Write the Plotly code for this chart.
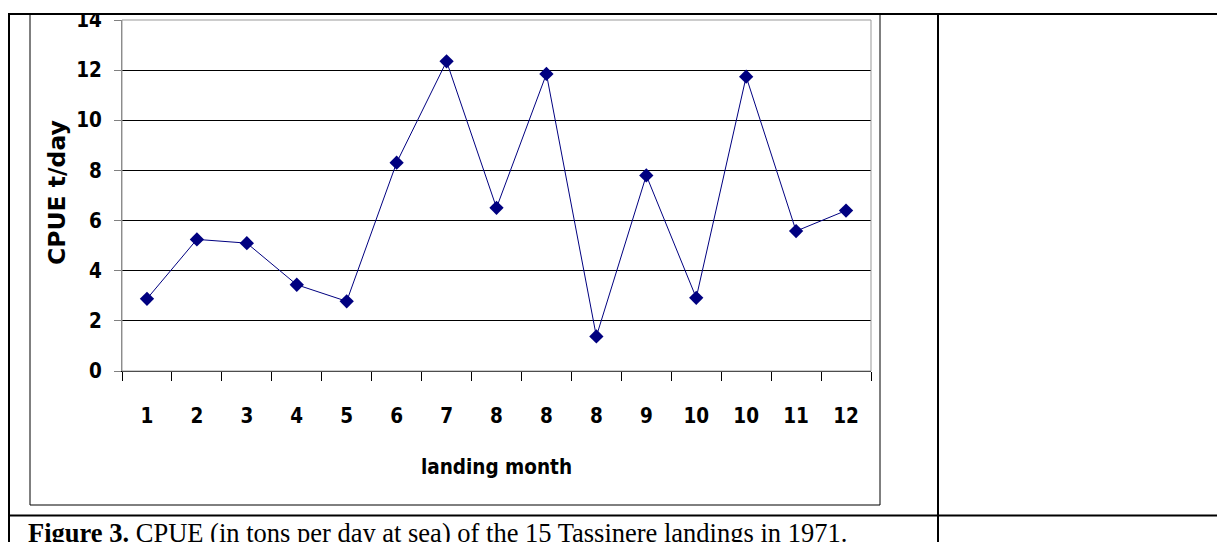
import plotly.graph_objects as go

# landing order (15 landings in 1971) and the month label for each
landing_month = ["1", "2", "3", "4", "5", "6", "7", "8", "8", "8", "9", "10", "10", "11", "12"]
cpue_t_day = [2.88, 5.25, 5.10, 3.44, 2.78, 8.31, 12.35, 6.51, 11.85, 1.38, 7.80, 2.92, 11.74, 5.58, 6.40]

y_ticks = [0, 2, 4, 6, 8, 10, 12, 14]

# page is 1225x542, the figure div sits 8px in from the body margin
OX, OY = 8, 8
W, H = 1225 - OX, 542 - OY
L, R, T, B = 122, 871, 20, 371   # plot area, page pixels


def px(x):
    return (x - L) / (R - L)


def py(y):
    return (B - y) / (B - T)


label_font = dict(family="Liberation Sans Narrow, DejaVu Sans Condensed, Roboto Condensed, Liberation Sans",
                  size=20.5, color="black", weight="bold")

x_pos = list(range(len(cpue_t_day)))

fig = go.Figure()
fig.add_trace(go.Scatter(
    x=x_pos,
    y=cpue_t_day,
    mode="lines+markers",
    line=dict(color="#000080", width=1),
    marker=dict(symbol="diamond", size=11, color="#000080"),
    showlegend=False,
    hoverinfo="y",
))

fig.update_layout(
    width=W, height=H,
    margin=dict(l=L - OX, r=1225 - R, t=T - OY, b=542 - B, pad=0),
    paper_bgcolor="white",
    plot_bgcolor="white",
    xaxis=dict(
        range=[-0.5, len(cpue_t_day) - 0.5],
        automargin=False,
        tickvals=x_pos,
        ticktext=landing_month,
        ticks="",
        ticklabelstandoff=26,
        tickfont=label_font,
        showgrid=False,
        zeroline=False,
        showline=True,
        linecolor="black",
        linewidth=1,
        minor=dict(
            tickvals=[i - 0.5 for i in range(len(cpue_t_day) + 1)],
            ticks="outside",
            ticklen=9,
            tickcolor="black",
            tickwidth=1,
            showgrid=False,
        ),
        title=dict(text="landing month", font=label_font, standoff=33),
    ),
    yaxis=dict(
        range=[0, 14],
        automargin=False,
        tickvals=y_ticks,
        ticks="outside",
        ticklen=7,
        tickcolor="#808080",
        ticklabelstandoff=8,
        ticklabeloverflow="allow",
        tickfont=label_font,
        showgrid=True,
        gridcolor="black",
        gridwidth=1,
        zeroline=False,
        showline=True,
        linecolor="#808080",
        linewidth=1,
    ),
    font=dict(family="Liberation Sans", color="black"),
)

# y axis title
fig.add_annotation(
    text="CPUE t/day", xref="paper", yref="paper",
    x=px(57), y=py(193), textangle=-90, showarrow=False,
    xanchor="center", yanchor="middle",
    font=dict(family="DejaVu Sans", size=23.5, color="black", weight="bold"),
)

# caption
fig.add_annotation(
    text="<b>Figure 3.</b> CPUE (in tons per day at sea) of the 15 Tassinere landings in 1971.",
    xref="paper", yref="paper", x=px(26), y=py(516),
    xanchor="left", yanchor="top", showarrow=False,
    font=dict(family="Liberation Serif, Times New Roman, serif", size=26.5, color="black"),
)

shapes = [
    # hide anything poking above the table frame
    dict(type="rect", x0=px(0), x1=px(1230), y0=py(0), y1=py(13), layer="above",
         fillcolor="white", line=dict(width=0)),
    # plot area border
    dict(type="rect", x0=px(L), x1=px(R), y0=py(T), y1=py(B),
         line=dict(color="#999999", width=1)),
    # chart box
    dict(type="rect", x0=px(30), x1=px(880), y0=py(14), y1=py(505),
         line=dict(color="black", width=1)),
    # table frame
    dict(type="line", x0=px(8), x1=px(1230), y0=py(14), y1=py(14),
         line=dict(color="black", width=2)),
    dict(type="line", x0=px(9), x1=px(9), y0=py(14), y1=py(550),
         line=dict(color="black", width=2)),
    dict(type="line", x0=px(938), x1=px(938), y0=py(14), y1=py(550),
         line=dict(color="black", width=2)),
    dict(type="line", x0=px(8), x1=px(1230), y0=py(515.5), y1=py(515.5),
         line=dict(color="black", width=2)),
]
for s in shapes:
    s.update(xref="paper", yref="paper")
fig.update_layout(shapes=shapes)

fig.write_html("out.html")
